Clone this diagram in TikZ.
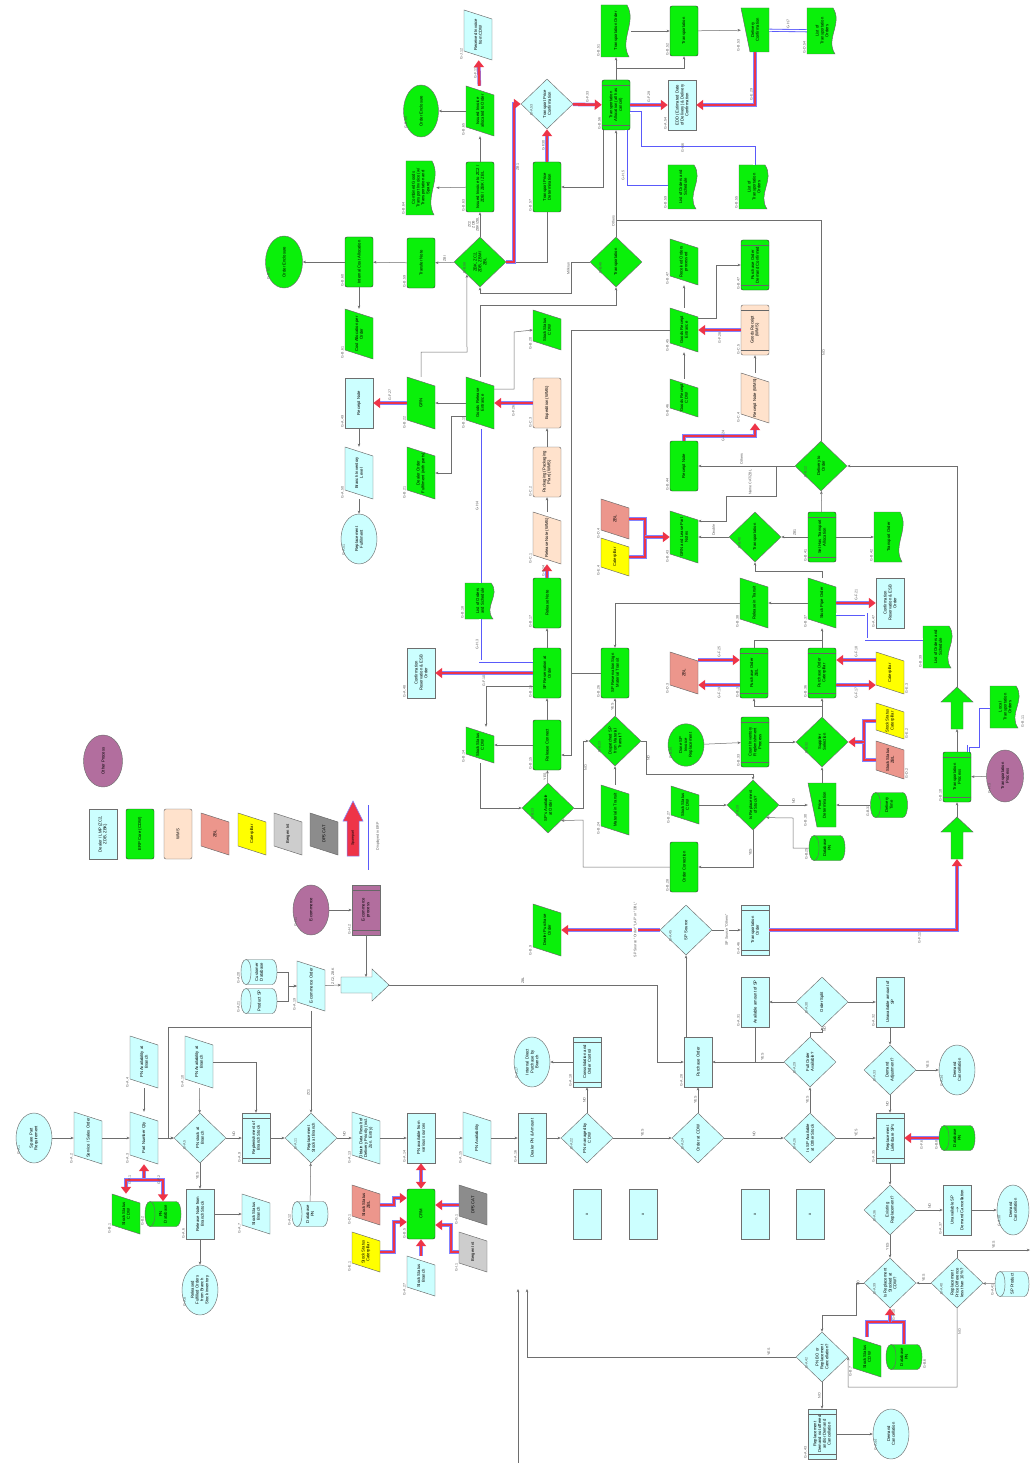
\documentclass[tikz,border=0pt]{standalone}
\usepackage{fontspec}
\setmainfont{Liberation Sans}
\usepackage{graphicx}
\usetikzlibrary{shapes.geometric,arrows.meta,calc}
\definecolor{cLB}{RGB}{204,255,255}
\definecolor{cEG}{RGB}{10,240,10}
\definecolor{cPC}{RGB}{255,226,204}
\definecolor{cPK}{RGB}{236,150,140}
\definecolor{cYL}{RGB}{255,255,0}
\definecolor{cLG}{RGB}{205,205,205}
\definecolor{cDG}{RGB}{140,140,140}
\definecolor{cPU}{RGB}{178,110,158}
\definecolor{cRD}{RGB}{238,52,72}
\definecolor{cBL}{RGB}{130,130,255}
\definecolor{cDB}{RGB}{90,90,250}
\definecolor{cLN}{RGB}{110,110,110}
\newcommand\rtx[2][44pt]{\rotatebox{90}{\parbox{#1}{\centering #2}}}
\tikzset{
  bas/.style={draw=cLN, line width=0.45pt, inner sep=0.5pt, font=\fontsize{4.2}{4.8}\selectfont},
  shp/.style={draw=black!60, line width=0.45pt},
  rb/.style={bas, rectangle, minimum width=28pt, minimum height=50pt},
  bb/.style={rb, fill=cLB},
  gb/.style={rb, fill=cEG, draw=black!80, rounded corners=2pt},
  wb/.style={rb, fill=cPC, draw=black!60, rounded corners=2pt},
  hid/.style={bas, draw=none, rectangle, minimum width=28pt, minimum height=#1},
  hid/.default=50pt,
  dia/.style={bas, diamond, minimum width=52pt, minimum height=50pt, inner sep=0pt},
  ell/.style={bas, ellipse, minimum width=36pt, minimum height=50pt, inner sep=0pt},
  dl/.style={path picture={\draw[black!60, line width=0.4pt]
     ([yshift=-5pt]path picture bounding box.north west) -- ([yshift=-5pt]path picture bounding box.north east)
     ([yshift=5pt]path picture bounding box.south west) -- ([yshift=5pt]path picture bounding box.south east);}},
  lbl/.style={font=\fontsize{3.6}{4}\selectfont, text=black!65, rotate=90, inner sep=1pt, align=center},
  lb/.style={label={[lbl,anchor=south west]south west:#1}},
  lbr/.style={label={[lbl,anchor=north west]south east:#1}},
  ya/.style={lbl, anchor=west},
  yb/.style={lbl, anchor=east},
  yl/.style={lbl, anchor=south},
  yr/.style={lbl, anchor=north},
  yo/.style={lbl, fill=white, inner sep=1.5pt},
  ln/.style={draw=cLN, line width=0.5pt, -{Stealth[length=3.2pt,width=2.6pt]}},
  pl/.style={draw=cLN, line width=0.5pt},
  ra/.style={draw=cRD, line width=2.6pt, -{Triangle[length=7pt,width=10pt]}, preaction={-, draw=cBL, line width=3.6pt, shorten >=6pt}},
  rab/.style={draw=cRD, line width=2.6pt, {Triangle[length=7pt,width=10pt]}-{Triangle[length=7pt,width=10pt]}, preaction={-, draw=cBL, line width=3.6pt, shorten >=6pt, shorten <=6pt}},
  rl/.style={draw=cRD, line width=2.6pt, preaction={draw=cBL, line width=3.6pt}},
  dbl/.style={draw=white, line width=1.3pt, preaction={draw=cDB, line width=3pt}}
}
% [opts]{name}{x}{y}{h}{fill}{text}
\newcommand\shPara[7][]{%
  \filldraw[shp, fill=#6] ({#3-14},{#4-#5/2}) -- ({#3+14},{#4-#5/2+9}) -- ({#3+14},{#4+#5/2}) -- ({#3-14},{#4+#5/2-9}) -- cycle;
  \node[hid=#5pt, #1] (#2) at (#3,#4) {\rtx[\dimexpr#5pt-10pt\relax]{#7}};}
\newcommand\shDoc[7][]{%
  \filldraw[shp, fill=#6] ({#3-15},{#4-#5/2}) -- ({#3+11},{#4-#5/2}) .. controls ({#3+21},{#4-#5/6}) and ({#3+3},{#4+#5/6}) .. ({#3+13},{#4+#5/2}) -- ({#3-15},{#4+#5/2}) -- cycle;
  \node[hid=#5pt, minimum width=30pt, #1] (#2) at (#3,#4) {\rtx[\dimexpr#5pt-8pt\relax]{#7}};}
\newcommand\shTrap[7][]{%
  \filldraw[shp, fill=#6] ({#3-14},{#4-#5/2}) -- ({#3+14},{#4-#5/2}) -- ({#3+14},{#4+#5/2}) -- ({#3-5},{#4+#5/2}) -- cycle;
  \node[hid=#5pt, #1] (#2) at (#3,#4) {\rtx[\dimexpr#5pt-10pt\relax]{#7}};}
% [opts]{name}{x}{y}{w}{fill}{text}
\newcommand\shCyl[7][]{%
  \filldraw[shp, fill=#6] ({#3-#5/2+5},{#4-12.5}) -- ({#3+#5/2-5},{#4-12.5}) .. controls ({#3+#5/2+1.7},{#4-12.5}) and ({#3+#5/2+1.7},{#4+12.5}) .. ({#3+#5/2-5},{#4+12.5}) -- ({#3-#5/2+5},{#4+12.5}) .. controls ({#3-#5/2-1.7},{#4+12.5}) and ({#3-#5/2-1.7},{#4-12.5}) .. ({#3-#5/2+5},{#4-12.5}) -- cycle;
  \draw[shp] ({#3-#5/2+5},{#4-12.5}) .. controls ({#3-#5/2+11.7},{#4-12.5}) and ({#3-#5/2+11.7},{#4+12.5}) .. ({#3-#5/2+5},{#4+12.5});
  \node[bas, draw=none, minimum width=#5pt, minimum height=25pt, #1] (#2) at (#3,#4) {\rtx[22pt]{#7}};}
% {name}{x}{ytip}
\newcommand\shUp[3]{%
  \filldraw[shp, fill=cEG] (#2,#3) -- ({#2+16},{#3+15}) -- ({#2+6},{#3+15}) -- ({#2+6},{#3+42}) -- ({#2-6},{#3+42}) -- ({#2-6},{#3+15}) -- ({#2-16},{#3+15}) -- cycle;
  \coordinate (#1t) at (#2,#3); \coordinate (#1b) at (#2,{#3+42});}
\begin{document}
\begin{tikzpicture}[x=1pt,y=-1pt]
\fill[white] (0,0) rectangle (1030,1463);
\useasboundingbox (0,0) rectangle (1030,1463);

% ================= main row
\node[ell, fill=cLB, lb=G-A.1] (sprq) at (34,1138) {\rtx[32pt]{Spare Part Requirement}};
\shPara[lb=G-A.2]{sso}{88}{1138}{52}{cLB}{Service / Sales Order}
\shPara[lb=G-A.3]{pnq}{144}{1138}{52}{cLB}{Part Number Qty}
\node[dia, fill=cLB, lb=G-A.5] (d5) at (200,1138) {\rtx[30pt]{PN stock at Branch}};
\node[bb, dl, lb=G-A.9] (rbs) at (256,1138) {\rtx[38pt]{Replenishment of Branch Stock}};
\node[dia, fill=cLB, lb=G-A.11] (d11) at (311,1138) {\rtx[30pt]{Replacement Stock at Branch}};
\shPara[lb=G-A.13]{odd}{366}{1138}{52}{cLB}{Obtain Data Result of Delivery Priority (incl. Zon. Entry)}
\node[bb, lb=G-A.14] (pnv) at (421,1138) {\rtx{PN available from various sources}};
\shPara[lb=G-A.15]{pna}{477}{1138}{52}{cLB}{PN Availability}
\node[bb, lb=G-A.16] (dpa) at (532,1138) {\rtx{Dealer PN \& Amount}};
\node[dia, fill=cLB, lb=G-A.22] (d22) at (587,1138) {\rtx[30pt]{PN managed by CDW}};
\node[dia, fill=cLB, lb=G-A.24] (d24) at (698,1138) {\rtx[30pt]{Order at CDW}};
\node[dia, fill=cLB, lb=G-A.26] (d25) at (810,1138) {\rtx[30pt]{Is SP Available at Other Stock}};
\node[bb, dl, lb=G-A.35] (rls) at (890,1138) {\rtx[38pt]{Replacement Lieferbare SPs}};
\shCyl[lb=G-B.8]{dbpn1}{957}{1138}{36}{cEG}{Database PN}

% ================= below main row
\shPara[lb=G-B.1]{ssc1}{126}{1214}{40}{cEG}{Stock Status CDW}
\shCyl[lb=G-B.2]{pndb}{163}{1214}{36}{cEG}{PN Database}
\node[bb, lb=G-A.6] (rnb) at (200,1214) {\rtx{Release Note from Branch Stock}};
\shPara[lb=G-A.7]{ssb}{256}{1214}{40}{cLB}{Stock Status Branch}
\node[ell, fill=cLB, lb=G-A.8] (rfo) at (200,1290) {\rtx[32pt]{Released Fulfilled Orders from Branch Stock inventory}};
\shCyl[lb=G-A.12]{dbpn2}{310}{1214}{36}{cLB}{Database PN}
\node[gb, lb=G-B.5] (crm) at (421,1214) {\rtx{CRM}};
\shPara[lb=G-D.1]{sszbl}{366}{1205}{40}{cPK}{Stock Status ZBL}
\shPara[lb=G-E.1]{sscat}{366}{1252}{40}{cYL}{Stock Status Caterpillar}
\shPara[lb=G-A.27]{ssb2}{421}{1276}{40}{cLB}{Stock Status Branch}
\shPara[lb=G-G.1]{dps}{473}{1205}{40}{cDG}{DPS CAT}
\shPara[lb=G-I.1]{berg}{473}{1252}{40}{cLG}{Bergen Int}
\node[bb] (xa) at (587,1214) {\rtx{x}};
\node[bb] (xb) at (643,1214) {\rtx{x}};
\node[bb] (xc) at (755,1214) {\rtx{x}};
\node[bb] (xd) at (810,1214) {\rtx{x}};

% ================= right lower
\node[dia, fill=cLB, lb=G-A.36] (d36) at (890,1210) {\rtx[30pt]{Existing Replacement?}};
\node[bb, lb=G-A.37] (usp) at (957,1210) {\rtx{Unavailable SP\\$\rightarrow$\\Demand Cancellation}};
\node[ell, fill=cLB, minimum width=32pt, lb=G-A.38] (dc1) at (1013,1210) {\rtx[32pt]{Demand Cancellation}};
\node[dia, fill=cLB, lb=G-A.39] (d39) at (890,1283) {\rtx[32pt]{Is Replacement Stocked at CDW?}};
\node[dia, fill=cLB, lb=G-A.40] (d40) at (957,1283) {\rtx[32pt]{Replacement Price Difference less than 10\,\%?}};
\shCyl[lb=G-A.41]{spp}{1012}{1284}{34}{cLB}{SP Product}
\shPara[lb=G-B.7]{ssc2}{867}{1357}{40}{cEG}{Stock Status CDW}
\shCyl[lbr=G-B.6]{dbpn3}{904}{1357}{36}{cEG}{Database PN}
\node[dia, fill=cLB, lb=G-A.42] (d42) at (822,1357) {\rtx[32pt]{PN BO or Replacement Cancellation?}};
\node[bb, dl, lb=G-A.43] (rdn) at (822,1434) {\rtx[40pt]{Replacement Demand not offered and/or Demand Cancellation}};
\node[ell, fill=cLB, lb=G-A.44] (dc2) at (891,1434) {\rtx[32pt]{Demand Cancellation}};

% ================= purchase area
\node[bb, lb=G-A.28] (po) at (698,1062) {\rtx{Purchase Order}};
\node[bb, dl, lb=G-A.18] (coc) at (587,1062) {\rtx[38pt]{Consolidation and Order Control}};
\node[ell, fill=cLB, lb=G-A.17] (idp) at (532,1062) {\rtx[32pt]{Internal Direct Purchase by Branch}};
\node[dia, fill=cLB, lb=G-A.29] (d29) at (810,1062) {\rtx[30pt]{Full Order Available?}};
\node[bb, lb=G-A.31] (aas) at (755,1002) {\rtx{Available amount of SP}};
\node[dia, fill=cLB, lb=G-A.30] (d30) at (822,1002) {\rtx[30pt]{Order Split}};
\node[bb, lb=G-A.32] (uas) at (890,1002) {\rtx{Unavailable amount of SP}};
\node[dia, fill=cLB, lb=G-A.33] (d33) at (890,1070) {\rtx[30pt]{Demand Adjustment?}};
\node[ell, fill=cLB, lb=G-A.34] (dc3) at (957,1070) {\rtx[32pt]{Demand Cancellation}};
\node[dia, fill=cLB, lb=G-A.45] (d45) at (686,930) {\rtx[30pt]{SP Source}};
\node[bb, dl, lb=G-A.46] (tro) at (755,930) {\rtx[38pt]{Transportation Order}};
\shPara[lb=G-B.9]{dpo}{547}{930}{52}{cEG}{Dealer Purchase Order}

% ================= e-commerce
\shPara[lb=G-A.4]{pav1}{144}{1062}{52}{cLB}{PN Availability at Branch}
\shPara[lb=G-A.10]{pav2}{199}{1062}{52}{cLB}{PN Availability at Branch}
\shPara[lb=G-A.19]{eco}{311}{986}{50}{cLB}{E-commerce Order}
\shCyl[lb=G-A.20]{cdb}{259}{972}{36}{cLB}{Customer Database}
\shCyl[lb=G-A.21]{psp}{259}{1001}{36}{cLB}{Product SP}
\node[rb, fill=cPU, dl, lb=G-H.2] (ecp) at (366,910) {\rtx[38pt]{E-commerce process}};
\node[ell, fill=cPU, lb=G-H.1] (ecom) at (311,910) {\rtx[32pt]{E-commerce}};
\filldraw[shp, fill=cLB] (341,977) -- (372,977) -- (372,969) -- (389,985) -- (372,1001) -- (372,993) -- (341,993) -- cycle;
\coordinate (barrL) at (341,985);
\coordinate (barrT) at (366,977);
\coordinate (barrR) at (389,985);

% ================= legend
\node[ell, fill=cPU, minimum width=39pt, minimum height=52pt] (lgop) at (103,761) {\rtx[32pt]{Other Process}};
\node[bb] (lg1) at (103,834) {\rtx{Dealer / LMP (ZC2, ZDB, ZBK)}};
\node[gb] (lg2) at (140,834) {\rtx{ERP Core (CDW)}};
\node[wb] (lg3) at (178,834) {\rtx{WMS}};
\shPara{lg4}{215}{834}{42}{cPK}{ZBL}
\shPara{lg5}{252}{834}{42}{cYL}{Caterpillar}
\shPara{lg6}{288}{834}{42}{cLG}{Bergen Int}
\shPara{lg7}{324}{834}{42}{cDG}{DPS CAT}
\filldraw[draw=cBL, fill=cRD, line width=0.5pt] (347,856) -- (347,821) -- (343,821) -- (353,801) -- (363,821) -- (359,821) -- (359,856) -- cycle;
\node[lbl, text=black] (lgsp) at (353,838) {Sparepart};
\coordinate (lgd1) at (367,805);
\coordinate (lgd2) at (367,870);
\draw[dbl] (lgd1) -- (lgd2);
\node[lbl] (lgde) at (378,836) {Displayed in ERP};

% ================= green middle
\node[dia, fill=cEG, lb=G-B.13] (d12sp) at (548,808) {\rtx[30pt]{SP's Available at Order}};
\node[gb, lb=G-B.15] (rcn) at (547,745) {\rtx{Release Connect}};
\shPara[lb=G-B.14]{ssc3}{480}{745}{36}{cEG}{Stock Status CDW}
\node[gb, lb=G-B.16] (spr) at (547,673) {\rtx{SP Reservation at Order}};
\node[bb, lb=G-A.48] (crr) at (421,673) {\rtx{Confirmation Reservation \& ESB Order}};
\node[gb, lb=G-B.17] (rln) at (547,603) {\rtx{Release Note}};
\shDoc[lb=G-B.18]{los1}{480}{601}{36}{cEG}{List of Orders and Schedule}
\shPara[lb=G-C.1]{rnw}{547}{538}{52}{cPC}{Release Note (WMS)}
\node[wb, lb=G-C.2] (pkw) at (547,472) {\rtx{Packaging (Packaging Plan) (WMS)}};
\node[wb, lb=G-C.3] (exw) at (547,403) {\rtx{Expedition (WMS)}};
\shPara[lb=G-B.19]{gre}{480}{403}{52}{cEG}{Goods Release Entrance}
\shPara[lb=G-B.22]{grn}{421}{403}{52}{cEG}{GRN}
\node[bb, lb=G-A.49] (rcn2) at (359,403) {\rtx{Receipt Note}};
\shPara[lb=G-B.21]{dof}{421}{473}{52}{cEG}{Dealer Order Fulfilment (with parts)}
\shPara[lb=G-A.50]{bil}{359}{473}{52}{cLB}{Branch Inventory Level}
\node[ell, fill=cLB, lb=G-A.51] (rfu) at (359,539) {\rtx[32pt]{Replacement Fulfilment}};
\shPara[lb=G-B.20]{ssc4}{547}{330}{40}{cEG}{Stock Status CDW}
\node[dia, fill=cEG, lb=G-B.23] (d23) at (615,741) {\rtx[32pt]{Dispatched SP from Material Transit?}};
\shPara[lb=G-B.24]{mit}{615}{810}{50}{cEG}{Material in Transit}
\node[gb, lb=G-B.26] (srs) at (615,673) {\rtx{SP Reservation Sign Material Transit}};
\shPara[lb=G-D.4]{zbl1}{615}{519}{40}{cPK}{ZBL}
\shPara[lb=G-E.4]{cat1}{615}{557}{38}{cYL}{Caterpillar}
\node[gb, lb=G-B.28] (ocr) at (684,867) {\rtx{Order Correction}};
\shPara[lb=G-B.27]{ssc5}{685}{805}{38}{cEG}{Stock Status CDW}
\node[ell, fill=cEG, minimum height=42pt, lb=G-B.34] (dsp) at (686,745) {\rtx[30pt]{Done SP Invoice Replacement}};
\node[dia, fill=cEG, lb=G-B.29] (d29b) at (753,805) {\rtx[30pt]{Is Replacement of Stock?}};
\shTrap[lb=G-B.30]{prd}{822}{805}{44}{cEG}{Price Determination}
\shCyl[lb=G-B.31]{dlt}{889}{805}{37}{cEG}{Delivery Time}
\shCyl[lb=G-B.25]{dbpn4}{827}{848}{36}{cEG}{Database PN}
\node[gb, dl, lb=G-B.33] (cir) at (755,742) {\rtx[38pt]{Count Inventory Replenishment Process}};
\node[dia, fill=cEG, lb=G-B.32] (d32) at (822,742) {\rtx[30pt]{Supplier Selection}};
\shPara[lbr=G-D.2]{sszbl2}{890}{760}{38}{cPK}{Stock Status ZBL}
\shPara[lbr=G-E.2]{sscat2}{890}{721}{36}{cYL}{Stock Status Caterpillar}
\node[gb, dl, lb=G-B.35] (poz) at (754,673) {\rtx[38pt]{Purchase Order ZBL}};
\node[gb, dl, lb=G-B.36] (poc) at (822,673) {\rtx[38pt]{Purchase Order Caterpillar}};
\shPara[lb=G-D.3]{zbl2}{684}{673}{42}{cPK}{ZBL}
\shPara[lbr=G-E.3]{cat2}{890}{673}{42}{cYL}{Caterpillar}
\shPara[lb=G-B.38]{rit}{754}{603}{50}{cEG}{Release in Transit}
\shPara[lb=G-B.37]{spo}{822}{603}{50}{cEG}{Stock Pipe Order}
\node[bb, lb=G-A.47] (crr2) at (890,603) {\rtx{Confirmation Reservation \& ESB Order}};
\shDoc[lb=G-B.39]{los2}{938}{647}{42}{cEG}{List of Orders and Schedule}
\shUp{ua}{957}{687}
\shDoc[lbr=G-B.11]{ltr}{1005}{707}{42}{cEG}{Local Transportation Orders}
\node[gb, dl, lb=G-B.10] (tpr) at (957,777) {\rtx[38pt]{Transportation Process}};
\node[ell, fill=cPU, minimum width=37pt, minimum height=52pt, lb=G-H.3] (tpe) at (1005,776) {\rtx[32pt]{Transportation Process}};
\shUp{ub}{957}{817}
\node[dia, fill=cEG, lb=G-B.40] (d40b) at (755,537) {\rtx[30pt]{Transportation}};
\node[gb, dl, lb=G-B.41] (sta) at (822,537) {\rtx[38pt]{Set Has Transport Allocation}};
\shDoc[lb=G-B.42]{tor}{889}{537}{50}{cEG}{Transport Order}
\node[dia, fill=cEG, lb=G-B.12] (d12) at (821,466) {\rtx[30pt]{Delivery to Order}};
\shPara[lb=G-C.4]{rnw2}{755}{398}{50}{cPC}{Receipt Note (WMS)}
\node[wb, dl, lb=G-C.5] (grw) at (755,330) {\rtx[38pt]{Goods Receipt (WMS)}};
\node[gb, lb=G-B.44] (rcn3) at (684,466) {\rtx{Receipt Note}};
\shPara[lb=G-B.43]{grl}{684}{537}{52}{cEG}{GRN and Lease Part Notes}
\shPara[lb=G-B.46]{grc}{684}{398}{38}{cEG}{Goods Receipt CDW}
\shPara[lb=G-B.45]{gren}{684}{330}{44}{cEG}{Goods Receipt Entrance}
\shPara[lb=G-B.47]{rop}{684}{262}{46}{cEG}{Received Orders processed}
\node[gb, dl, lb=G-B.47] (podc) at (755,265) {\rtx[38pt]{Purchase Order Demand Confirmed}};

% ================= top
\shDoc[lb=G-B.59]{los3}{683}{187}{44}{cEG}{List of Orders and Schedule}
\shDoc[lb=G-B.55]{lto1}{754}{187}{44}{cEG}{List of Transportation Orders}
\node[dia, fill=cEG, lb=G-B.48] (d16) at (616,262) {\rtx[30pt]{Transportation}};
\node[gb, dl, lb=G-B.56] (tal) at (616,105) {\rtx[38pt]{Transportation Allocation (all has cancel)}};
\node[bb, lb=G-A.54] (edd) at (682,105) {\rtx{EDD (Estimated Date of Delivery) \& Delivery Confirmation}};
\shDoc[lb=G-B.51]{tord}{616}{31}{52}{cEG}{Transportation Order}
\node[gb, lb=G-B.52] (trn) at (684,31) {\rtx{Transportation}};
\shTrap[lb=G-B.53]{dcf}{755}{30}{44}{cEG}{Delivery Confirmation}
\shDoc[lb=G-D.54]{lto2}{822}{31}{46}{cEG}{List of Transportation Orders}
\node[dia, fill=cLB, lb=G-A.53] (dtp) at (547,104) {\rtx[30pt]{Transport Price Confirmation}};
\node[gb, lb=G-B.57] (tpd) at (547,187) {\rtx{Transport Price Determination}};
\node[dia, fill=cEG, lb=G-B.58] (d58) at (480,262) {\rtx[30pt]{ZBK, ZC2, ZDB, ZBM / ZBL}};
\shPara[lb=G-B.65]{iia}{480}{111}{50}{cEG}{Issued Invoice allocated to Order}
\shPara[lb=G-J.12]{rinv}{478}{35}{50}{cLB}{Received Invoice from CDW}
\node[ell, fill=cEG, minimum width=35pt, minimum height=52pt, lb=G-B.66] (oen) at (421,111) {\rtx[32pt]{Order Enclosure}};
\node[gb, lb=G-B.63] (iiz) at (480,187) {\rtx{Issued Invoice to ZC2 / ZDB / ZBK / ZBL}};
\shDoc[lb=G-B.64]{cgt}{421}{188}{54}{cEG}{Combined Goods Transport Invoice (w/ Transportation and Spare)}
\node[gb, lb=G-B.59] (tfn) at (421,263) {\rtx{Transfer Note}};
\node[gb, lb=G-B.60] (ica) at (359,262) {\rtx{Internal Cost Allocation}};
\shPara[lb=G-B.61]{cao}{359}{334}{50}{cEG}{Cost Allocation per Order}
\node[ell, fill=cEG, minimum width=37pt, minimum height=52pt, lb=G-B.62] (oen2) at (284,262) {\rtx[32pt]{Order Enclosure}};

% ================= connectors: main row
\draw[ln] (sprq) -- (sso);
\draw[ln] (sso) -- (pnq);
\draw[ln] (pnq) -- (d5);
\draw[ln] (d5) -- node[ya]{NO} (rbs);
\draw[ln] (rbs) -- (d11);
\draw[ln] (d11) -- node[ya]{NO} (odd);
\draw[ln] (odd) -- (pnv);
\draw[ln] (pnv) -- (pna);
\draw[ln] (pna) -- (dpa);
\draw[ln] (dpa) -- (d22);
\draw[ln] (d22) -- node[ya]{YES} (d24);
\draw[ln] (d24) -- node[ya]{NO} (d25);
\draw[ln] (d25) -- node[ya]{YES} (rls);
\draw[ln] (d5) -- node[yl]{YES} (rnb);
\draw[ln] (rnb) -- (ssb);
\draw[ln] (rnb) -- (rfo);
\draw[ln] (dbpn2) -- (d11);
\draw[ln] (pav1) -- (pnq);
\draw[ln] (pav2) -- (d5);
\draw[ln] (pav2.east) -| (rbs.north);
\draw[ln] (eco) -- node[yl, pos=0.8]{ZC1} (d11);
\coordinate (je) at (311,1027);
\draw[ln] (je) -| (168,1138) -- (d5.west);
\draw[ln] (cdb.east) -- (288,972) |- (eco.west);
\draw[ln] (psp.east) -- (288,1001) |- (eco.west);
\draw[ln] (eco) -- node[ya]{ZC2, ZBK} (barrL);
\draw[ln] (ecom) -- (ecp);
\draw[ln] (ecp) -- (barrT);
\draw[ln] (barrR) -- node[ya]{ZBL} (657,985) |- (po.west);
\draw[ln] (d22) -- node[yl]{NO} (coc);
\draw[ln] (coc) -- (idp);
\draw[ln] (d24) -- node[yl]{YES} (po);
\draw[ln] (po.north -| d45.south) -- (d45.south);
\draw[ln] (d25) -- node[yl]{YES} (d29);
\draw[ln] (d29.north) -- (810,1032) -| node[yr, pos=0.8]{NO} (d30.south);
\draw[ln] (d30) -- (aas);
\draw[ln] (d30) -- (uas);
\draw[pl] (aas) -- (755,1062);
\draw[ln] (d29) -- node[ya, pos=0.3]{YES} (po);
\draw[ln] (uas) -- (d33);
\draw[ln] (d33) -- node[ya]{YES} (dc3);
\draw[ln] (d33) -- node[yl]{NO} (rls);
\draw[ra] (dbpn1) -- node[yb]{G-F.6} (rls);
\draw[ln] (rls) -- (d36);
\draw[ln] (d36) -- node[ya]{NO} (usp);
\draw[ln] (usp) -- (dc1);
\draw[ln] (d36) -- node[yl]{YES} (d39);
\draw[ln] (d40) -- node[ya]{YES} (d39);
\draw[ln] (spp) -- (d40);
\coordinate (edgeR) at (1030,1250);
\draw[ln] (d40.north) |- node[ya, pos=0.75]{YES} (edgeR);
\draw[ln] (d40.south) |- node[yr, pos=0.15]{NO} (848,1387) -- (d42.east);
\draw[ln] (d39.west) -| node[yl, pos=0.2]{NO} (856,1315) -| (d42.north);
\coordinate (jr) at (890,1322);
\draw[rl] (ssc2.north) |- (jr) -| (dbpn3.north);
\draw[ra] (jr) -- node[yr]{G-F.10} (d39.south);
\draw[ln] (d42) -- node[yl]{NO} (rdn);
\draw[ln] (rdn) -- (dc2);
\coordinate (c1) at (518,1289);
\coordinate (c1b) at (518,1463);
\coordinate (c2) at (527,1289);
\draw[ln] (d42.west) -- node[ya, pos=0.1]{YES} (527,1357) -- (c2);
\draw[ln] (c1b) -- (c1);

% CRM
\draw[rab] (crm) -- (pnv);
\draw[ra] (sszbl.east) -- (394,1205) |- ([yshift=16pt]crm.west);
\draw[ra] (sscat.east) -- (394,1252) |- ([yshift=-8pt]crm.west);
\draw[ra] (dps.west) -- (crm.east |- dps.west);
\draw[ra] (berg.west) -- (451,1252) |- ([yshift=-11pt]crm.east);
\draw[ra] (ssb2) -- (crm);
\coordinate (jq) at (144,1180);
\draw[ra] (jq) -- (pnq.south);
\draw[ra] (jq) -| node[yl, pos=0.3]{G-F.1} (ssc1.north);
\draw[ra] (jq) -| node[yr, pos=0.3]{G-F.2} (pndb.north);

% SP source / transportation
\draw[ra] (d45) -- node[yo, pos=0.25]{SP Source "Order" "LAP" or "DBL"} (dpo);
\draw[ln] (d45) -- node[yo]{SP Source "Others"} (tro);
\draw[ra] (tro.east) -| node[yb, pos=0.4]{G-F.12} (ubb);
\draw[ln] (ubt) -- (tpr);
\draw[ln] (tpr) -- (uab);
\draw[ln] (uat) |- (d12.east);
\draw[ln] (tpe) -- (tpr);
\draw[dbl] ([xshift=-3pt]tpr.north east) |- (978,746) |- (ltr.west);

% green middle connectors
\draw[ln] (sta) -- (d12);
\draw[ln] (sta) -- node[ya]{ZB1} (d40b);
\draw[ln] (sta) -- (tor);
\draw[ln] (d40b) -- node[ya]{Double} (grl);
\draw[ln] (d12) -- node[ya, pos=0.55]{Others} (rcn3);
\draw[ln] (776,466) |- (726,496) |- ([yshift=16pt]grl.east);
\node[ya] (lnm) at (750,496) {Name CAT/ZBL};
\draw[ln] (spo) -- (822,571) -| (d40b.south);
\draw[ln] (spo) -- (rit);
\draw[ln] (rit.west) -| (srs.north);
\draw[ra] (spo) -- node[ya]{G-F.21} (crr2);
\draw[dbl] ([yshift=-11pt]spo.east) -| (866,639) -- ([yshift=8pt]los2.west);
\draw[ln] (poc) -- (spo);
\draw[pl] (poz) |- (822,640);
\draw[ra] ([yshift=13pt]zbl2.east) -- node[ya]{G-F.25} ([yshift=13pt]poz.west);
\draw[ra] ([yshift=-12pt]poz.west) -- node[yb]{G-F.19} ([yshift=-12pt]zbl2.east);
\draw[ra] ([yshift=13pt]cat2.west) -- node[ya]{G-F.18} ([yshift=13pt]poc.east);
\draw[ra] ([yshift=-12pt]poc.east) -- node[yb]{G-F.17} ([yshift=-12pt]cat2.west);
\draw[ln] (d32) -- (poc);
\draw[ln] (822,706) -| (poz.south);
\draw[ln] (cir) -- (d32);
\draw[ln] (dsp) -- (cir);
\draw[ln] (prd) -- (d32);
\draw[ln] (dlt) -- (prd);
\draw[ln] (d29b) -- node[ya]{NO} (prd);
\draw[ln] (dbpn4.west) -| (793,818) -- (d29b.south east);
\draw[ln] (ssc5) -- (d29b);
\draw[ln] (d29b.south) |- node[yl, pos=0.3]{YES} (ocr.east);
\draw[ln] (ocr.west) -| (583,820) -- (d12sp.south east);
\draw[ln] (d12sp.east) -- (583,808) |- node[yr, pos=0.3]{NO} (d23.west);
\draw[ln] (d23.east) -| (646,774) -| (d29b.north);
\node[yr] (lno) at (646,758) {NO};
\draw[ln] (mit) -- (d23);
\draw[ln] (d23) -- node[yl]{YES} (srs);
\draw[ln] (srs.west) -- (571,673) |- ([yshift=-10pt]rcn.east);
\draw[pl] (gren.west) -| (571,673);
\draw[ln] (d12sp) -- node[yl]{YES} (rcn);
\draw[ln] (rcn) -- (spr);
\draw[ln] (rcn) -- (ssc3);
\draw[ln] (ssc3.south) |- (d12sp.west);
\draw[ln] ([yshift=-13pt]spr.west) -| ([xshift=6pt]ssc3.north);
\draw[ln] (spr) -- (rln);
\draw[ra] (spr) -- node[yb]{G-F.10} (crr);
\draw[ra] (rln) -- node[yl]{G-E.14} (rnw);
\draw[ln] (rnw) -- (pkw);
\draw[ln] (pkw) -- (exw);
\draw[ra] (exw) -- node[yb]{G-F.26} (gre);
\draw[ln] (gre) -- (grn);
\draw[ra] (grn) -- node[ya]{G-F.27} (rcn2);
\draw[ln] (rcn2) -- (bil);
\draw[ln] (bil) -- (rfu);
\draw[ln] ([yshift=-13pt]gre.west) -| (451,473) -- (dof.east);
\draw[ln] ([yshift=14pt]gre.east) -| (514,332) -- (ssc4.west);
\draw[dbl] (gre.south) -- node[yl]{G-H.4} (los1.north);
\draw[dbl] (los1.south) |- node[yl, pos=0.3]{G-H.3} ([yshift=12pt]spr.west);
\draw[ln] (gre.north) |- (616,305) -- (d16.south);
\draw[ln] (d16.west) -| node[yl, pos=0.6]{Milkrun} (571,293) -| (d58.south);
\coordinate (k1) at (467,352);
\draw[ln] (grn.north) |- (k1) -- (d58.south west);
\draw[ln] (d58) -- node[ya]{ZBI} (tfn);
\draw[ln] (tfn) -- (ica);
\draw[ln] (ica) -- (oen2);
\draw[ln] (ica) -- (cao);
\draw[ln] (d58) -- node[yl]{ZC2\\ZDB\\ZBK/ZBL} (iiz);
\draw[ln] (iiz) -- (iia);
\draw[ln] (iiz) -- (cgt);
\draw[ln] (iia) -- (oen);
\draw[ra] (iia) -- node[yl]{G-F.11} (rinv);
\draw[ln] (tpd.south) |- (d58.east);
\draw[ra] (d58.east) -- (514,262) |- node[yr, pos=0.3]{ZB1} (dtp.west);
\draw[ra] (tpd) -- node[yl]{G-F.30} (dtp);
\draw[ra] (dtp) -- node[ya]{G-F.33} (tal);
\draw[ra] (tal) -- node[ya]{G-F.29} (edd);
\draw[ln] (tal) -- (tord);
\draw[ln] (616,68) -| (trn.south);
\draw[ln] (tord) -- (trn);
\draw[ln] (trn) -- (dcf);
\draw[dbl] (dcf) -- node[ya]{G-H.7} (lto2);
\draw[ra] (dcf.south) |- node[yl, pos=0.4]{G-E.29} (edd.east);
\draw[ln] ([xshift=-13pt]tal.south) |- (tpd.east);
\draw[dbl] ([yshift=-8pt]tal.east) -| (640,148) -| node[yl, pos=0.2]{G-H.6} (lto1.north);
\draw[dbl] ([xshift=10pt]tal.south) |- node[yl, pos=0.4]{G-H.5} (los3.west);
\draw[ln] (d16) -- node[yl, pos=0.15]{Others} (tal);
\draw[pl] (d12.north) |- node[yr, pos=0.2]{NO} (616,220);
\draw[ra] (grw) -- node[yb]{G-F.28} (gren);
\draw[ln] (rnw2) -- (grw);
\draw[ra] (rcn3.north) -- (684,436) -| node[yl, pos=0.3]{G-F.24} (rnw2.south);
\draw[ln] (grc) -- (gren);
\draw[ln] (gren) -- (rop);
\draw[ln] ([yshift=12pt]gren.east) -| (716,265) -- (podc.west);
\coordinate (jg) at (645,537);
\draw[rl] (zbl1.east) -| (jg);
\draw[rl] (cat1.east) -| (jg);
\draw[ra] (jg) -- (grl.west);
\coordinate (js) at (864,742);
\draw[rl] (sscat2.west) -| (js);
\draw[rl] (sszbl2.west) -| (js);
\draw[ra] (js) -- (d32.east);
\end{tikzpicture}
\end{document}
